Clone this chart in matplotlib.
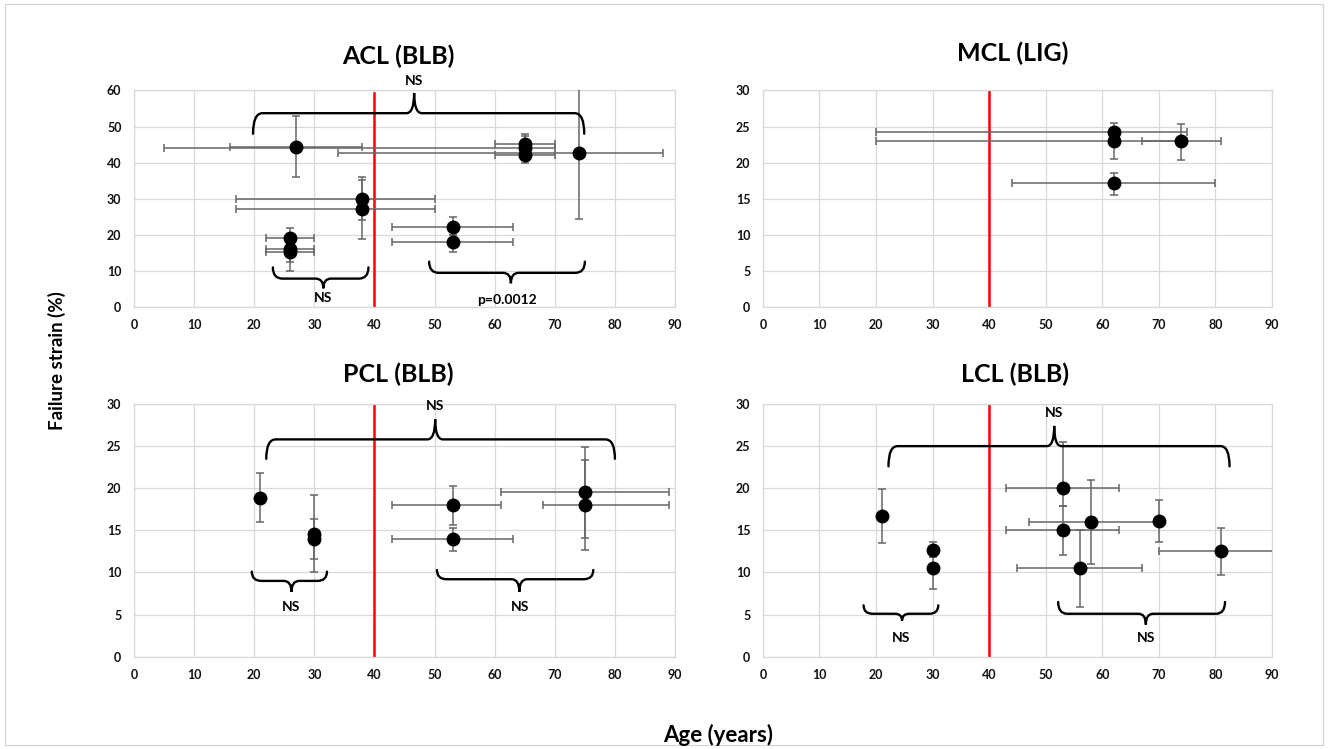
import numpy as np
import matplotlib
matplotlib.use("Agg")
import matplotlib.pyplot as plt
from matplotlib.path import Path
from matplotlib.patches import PathPatch, Rectangle

plt.rcParams['font.family'] = ['Lato', 'DejaVu Sans']
plt.rcParams['font.weight'] = 'bold'

# ACL (BLB): mean age / strain with min-max ranges
acl_x = [27, 65, 65, 65, 74, 38, 38, 26, 26, 26, 53, 53]
acl_y = [44.3, 45.2, 44.1, 42.0, 42.7, 30.0, 27.0, 19.1, 16.0, 15.1, 22.0, 18.0]
acl_xlo = [16, 60, 5, 60, 34, 17, 17, 22, 22, 22, 43, 43]
acl_xhi = [38, 70, 70, 70, 88, 50, 50, 30, 30, 30, 63, 63]
acl_ylo = [36.0, 43.5, 42.0, 40.0, 24.3, 24.0, 18.9, 17.0, 12.3, 10.0, 20.0, 15.2]
acl_yhi = [52.8, 47.8, 47.3, 44.0, 61.2, 36.1, 35.2, 21.9, 18.0, 17.0, 24.9, 20.0]

# MCL (LIG)
mcl_x = [62, 62, 74, 62]
mcl_y = [24.3, 23.0, 23.0, 17.1]
mcl_xlo = [20, 20, 67, 44]
mcl_xhi = [75, 75, 81, 80]
mcl_ylo = [23.0, 20.5, 20.4, 15.5]
mcl_yhi = [25.5, 24.3, 25.4, 18.5]

# PCL (BLB)
pcl_x = [21, 30, 30, 53, 53, 75, 75]
pcl_y = [18.9, 14.6, 14.0, 18.0, 14.0, 19.5, 18.0]
pcl_xlo = [21, 30, 30, 43, 43, 61, 68]
pcl_xhi = [21, 30, 30, 61, 63, 89, 89]
pcl_ylo = [16.0, 11.6, 10.0, 15.6, 12.6, 14.1, 12.7]
pcl_yhi = [21.8, 19.2, 16.4, 20.3, 15.3, 24.9, 23.3]

# LCL (BLB)
lcl_x = [21, 30, 30, 53, 53, 58, 70, 56, 81]
lcl_y = [16.7, 12.7, 10.5, 20.0, 15.0, 16.0, 16.1, 10.5, 12.5]
lcl_xlo = [21, 30, 30, 43, 43, 47, 70, 45, 70]
lcl_xhi = [21, 30, 30, 63, 63, 69.5, 70, 67, 95]
lcl_ylo = [13.5, 11.8, 8.0, 17.9, 12.1, 11.0, 13.6, 5.9, 9.7]
lcl_yhi = [19.9, 13.6, 11.8, 25.5, 17.9, 21.0, 18.6, 15.1, 15.3]

# braces: (x1, x2, y_end, y_bar, x_tip, y_tip, label, label_x, label_y)
acl_braces = [(19.8, 74.9, 48.0, 53.7, 46.6, 59.3, 'NS', 46.6, 62.6),
              (23.1, 39.0, 10.9, 7.8, 31.5, 5.1, 'NS', 31.5, 2.3),
              (49.1, 75.0, 12.5, 9.4, 62.7, 6.5, 'p=0.0012', 62.0, 2.0)]
pcl_braces = [(22.0, 80.0, 23.5, 25.8, 50.1, 28.2, 'NS', 50.1, 29.8),
              (19.6, 32.1, 10.1, 9.0, 26.2, 7.7, 'NS', 26.2, 5.9),
              (50.4, 76.4, 10.3, 9.2, 64.1, 7.7, 'NS', 64.2, 5.9)]
lcl_braces = [(22.2, 82.5, 22.6, 25.0, 51.5, 27.4, 'NS', 51.5, 28.9),
              (17.8, 31.0, 6.1, 5.1, 24.6, 4.3, 'NS', 24.5, 2.2),
              (52.2, 81.7, 6.5, 5.1, 67.7, 3.8, 'NS', 67.7, 2.2)]

age_cut = 40


def brace(ax, x1, x2, y_end, y_bar, xt, yt, rx=1.6, tx=1.3):
    verts = [(x1, y_end), (x1, y_bar), (x1 + rx, y_bar),
             (xt - tx, y_bar), (xt, y_bar), (xt, yt),
             (xt, y_bar), (xt + tx, y_bar),
             (x2 - rx, y_bar), (x2, y_bar), (x2, y_end)]
    codes = [Path.MOVETO, Path.CURVE3, Path.CURVE3,
             Path.LINETO, Path.CURVE3, Path.CURVE3,
             Path.CURVE3, Path.CURVE3,
             Path.LINETO, Path.CURVE3, Path.CURVE3]
    ax.add_patch(PathPatch(Path(verts, codes), fill=False, lw=1.7,
                           color='black', capstyle='round', zorder=4))


def panel(ax, title, x, y, xlo, xhi, ylo, yhi, ymax, ystep, line_top,
          braces, tx, ty):
    x = np.array(x, float)
    y = np.array(y, float)
    xerr = [x - np.array(xlo), np.array(xhi) - x]
    yerr = [y - np.array(ylo), np.array(yhi) - y]
    ax.errorbar(x, y, xerr=xerr, yerr=yerr, fmt='none', ecolor='#666666',
                elinewidth=1.1, capsize=2.6, capthick=1.1, zorder=3)
    ax.plot(x, y, 'o', color='black', ms=9, zorder=5)
    ax.plot([age_cut, age_cut], [0, line_top], color='#ff0000', lw=1.8,
            zorder=2)
    for b in braces:
        brace(ax, *b[:6])
        ax.text(b[7], b[8], b[6], ha='center', va='center', fontsize=10,
                fontweight='bold', clip_on=False)
    ax.set_xlim(0, 90)
    ax.set_ylim(0, ymax)
    ax.set_xticks(np.arange(0, 91, 10))
    ax.set_yticks(np.arange(0, ymax + 1, ystep))
    ax.grid(True, color='#d9d9d9', lw=0.9)
    ax.set_axisbelow(True)
    for s in ax.spines.values():
        s.set_color('#d9d9d9')
        s.set_linewidth(0.9)
    ax.tick_params(length=0, labelsize=9, pad=9, colors='#111111')
    for lab in ax.get_xticklabels() + ax.get_yticklabels():
        lab.set_fontweight('bold')
    ax.text(tx, ty, title, transform=ax.transAxes, ha='center', va='center',
            fontsize=18, fontweight='bold')


fig = plt.figure(figsize=(13.28, 7.49), dpi=100)
fig.patches.append(Rectangle((0.004, 0.006), 0.992, 0.988,
                             transform=fig.transFigure, fill=False,
                             edgecolor='#d0d0d0', lw=0.8))

ax1 = fig.add_axes([0.1009, 0.5905, 0.4074, 0.2887])
ax2 = fig.add_axes([0.5745, 0.5905, 0.3833, 0.2887])
ax3 = fig.add_axes([0.1009, 0.1232, 0.4074, 0.3374])
ax4 = fig.add_axes([0.5745, 0.1232, 0.3833, 0.3374])

panel(ax1, 'ACL (BLB)', acl_x, acl_y, acl_xlo, acl_xhi, acl_ylo, acl_yhi,
      60, 10, 59.3, acl_braces, 0.488, 1.156)
panel(ax2, 'MCL (LIG)', mcl_x, mcl_y, mcl_xlo, mcl_xhi, mcl_ylo, mcl_yhi,
      30, 5, 30, [], 0.49, 1.17)
panel(ax3, 'PCL (BLB)', pcl_x, pcl_y, pcl_xlo, pcl_xhi, pcl_ylo, pcl_yhi,
      30, 5, 30, pcl_braces, 0.488, 1.118)
panel(ax4, 'LCL (BLB)', lcl_x, lcl_y, lcl_xlo, lcl_xhi, lcl_ylo, lcl_yhi,
      30, 5, 30, lcl_braces, 0.495, 1.118)

fig.text(0.043, 0.519, 'Failure strain (%)', rotation=90, ha='center',
         va='center', fontsize=13.5, fontweight='bold')
fig.text(0.541, 0.019, 'Age (years)', ha='center', va='center',
         fontsize=16, fontweight='bold')

fig.savefig('out.png', dpi=100)
